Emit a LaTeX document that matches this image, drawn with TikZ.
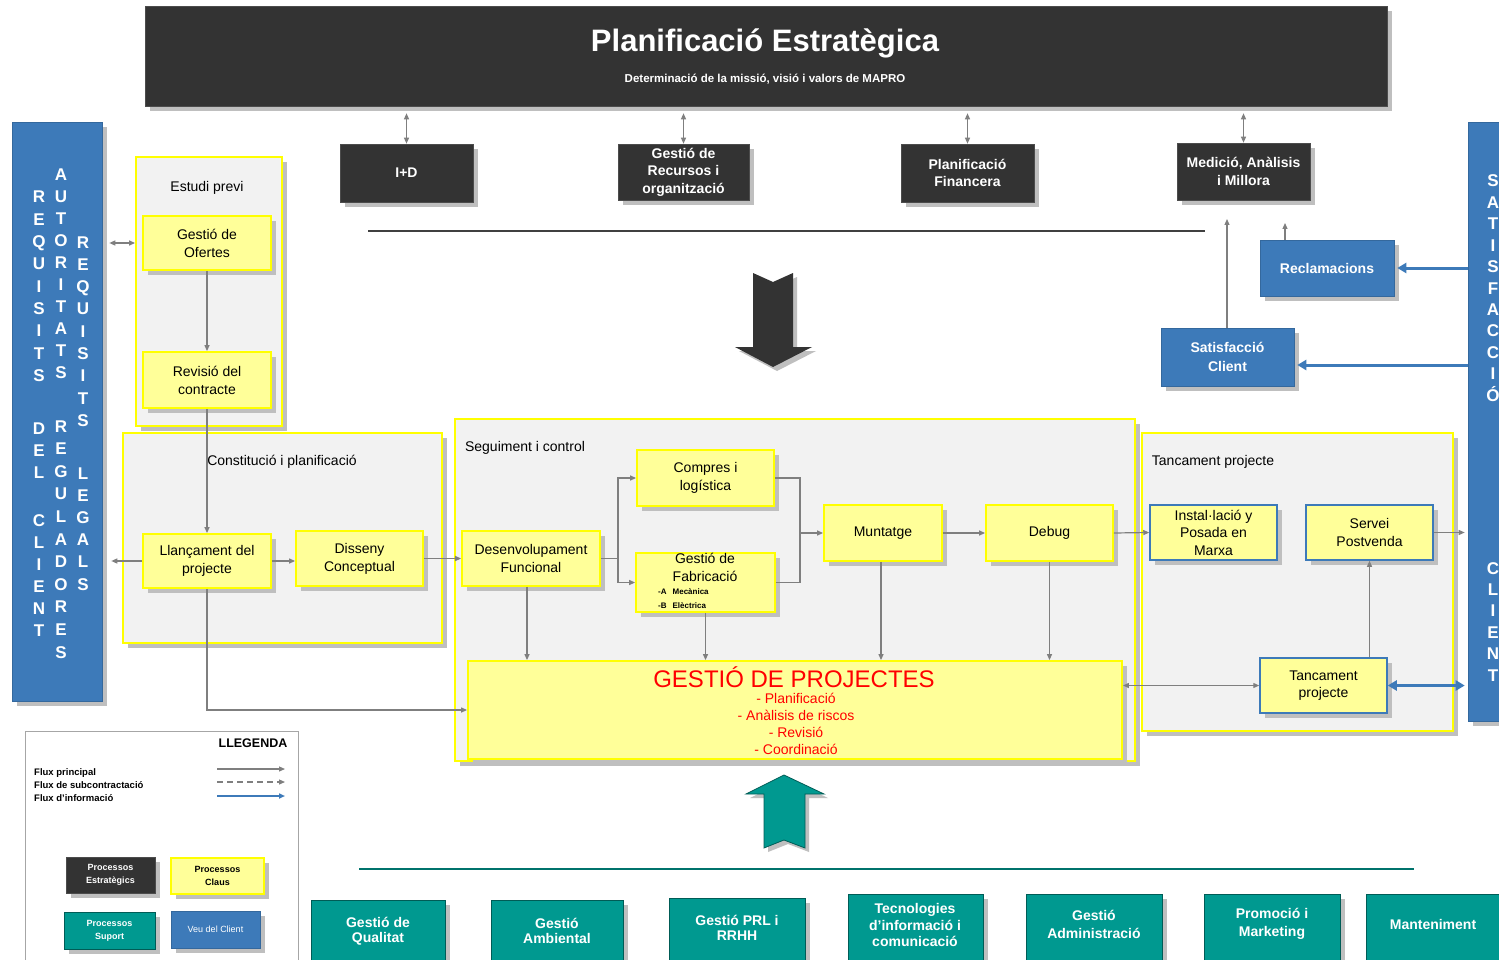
\documentclass[tikz,border=0pt]{standalone}
\usepackage{fontspec}
\setmainfont{Liberation Sans}
\usetikzlibrary{shadows,arrows.meta,calc}
\definecolor{darkbox}{HTML}{333333}
\definecolor{bluebox}{HTML}{3D7AB9}
\definecolor{tealbox}{HTML}{009990}
\definecolor{ylw}{HTML}{FFFF99}
\definecolor{ylwb}{HTML}{FFFF00}
\definecolor{contfill}{HTML}{F2F2F2}
\definecolor{shad}{HTML}{BFBFBF}
\definecolor{garr}{HTML}{7F7F7F}
\definecolor{redtxt}{HTML}{FF0000}
\newcommand\mknode[7]{\node[#1, minimum width={#5-#3}, minimum height={#6-#4}] (#2) at ({(#3+#5)/2},{(#4+#6)/2}) {#7};}
\newcommand\fs[2]{\fontsize{#1}{#2}\selectfont}
\newcommand\vword[5]{\foreach \ltr [count=\cnt] in {#5} {\node[lett] (#1\cnt) at (#2,{#3+6+(\cnt-1)*#4}) {\ltr};}}
\begin{document}
\begin{tikzpicture}[x=1pt,y=-1pt,
  shd/.style={drop shadow={shadow xshift=5pt,shadow yshift=-5pt,fill=shad,opacity=1}},
  basebox/.style={rectangle,inner sep=1pt,align=center,shd},
  ybox/.style={basebox,fill=ylw,draw=ylwb,line width=1.8pt,font=\fs{14}{18}},
  ybbox/.style={basebox,fill=ylw,draw=bluebox,line width=1.5pt,font=\fs{14}{17.5}},
  dbox/.style={basebox,fill=darkbox,draw=black!70,line width=0.6pt,text=white,font=\bfseries\fs{14}{17.5}},
  bbox/.style={basebox,fill=bluebox,draw=bluebox!85!black,line width=0.6pt,text=white,font=\bfseries\fs{14}{19}},
  tbox/.style={basebox,fill=tealbox,draw=tealbox!60!black,line width=1pt,text=white,font=\bfseries\fs{14}{16}},
  contbox/.style={rectangle,inner sep=0pt,fill=contfill,draw=ylwb,line width=1.8pt,shd},
  lbl/.style={inner sep=0pt,font=\fs{14}{16}},
  lett/.style={inner sep=0pt,anchor=base,text=white,font=\bfseries\fs{17}{20}},
  txt/.style={inner sep=0pt,align=center},
  garrow/.style={draw=garr,line width=1.2pt,-{Triangle[length=6pt,width=5pt]}},
  gdarrow/.style={draw=garr,line width=1.2pt,{Triangle[length=6pt,width=5pt]}-{Triangle[length=6pt,width=5pt]}},
  gline/.style={draw=garr,line width=1.2pt},
  barrow/.style={draw=bluebox,line width=3pt,-{Triangle[length=9pt,width=10pt]}},
  bdarrow/.style={draw=bluebox,line width=3pt,{Triangle[length=9pt,width=10pt]}-{Triangle[length=9pt,width=10pt]}},
]
\useasboundingbox (0,0) rectangle (1499,960);
\clip (0,0) rectangle (1499,960);
\fill[white] (0,0) rectangle (1499,960);

% header
\mknode{dbox}{header}{145}{6}{1387}{106}{}
\node[txt,text=white,font=\bfseries\fs{31}{34}] (htitle) at (765,43) {Planificació Estratègica};
\node[txt,text=white,font=\bfseries\fs{11.5}{14}] (hsub) at (765,79) {Determinació de la missió, visió i valors de MAPRO};

% strategic boxes
\mknode{dbox}{idbox}{340}{144}{473}{202}{I+D}
\mknode{dbox}{recursos}{618}{144}{749}{200}{Gestió de\\Recursos i\\organització}
\mknode{dbox}{financ}{901}{144}{1034}{202}{Planificació\\Financera}
\mknode{dbox}{medicio}{1177}{143}{1310}{200}{Medició, Anàlisis\\i Millora}

% blue client boxes
\mknode{bbox}{reclam}{1260}{240}{1394}{296}{Reclamacions}
\mknode{bbox}{satisf}{1161}{328}{1294}{386}{Satisfacció\\Client}

% side columns
\mknode{bbox}{leftcol}{12}{122}{102}{701}{}
\mknode{bbox}{rightcol}{1468}{122}{1540}{721}{}
\vword{ca}{39}{197}{22.3}{R,E,Q,U,I,S,I,T,S}
\vword{cb}{39}{428}{22.3}{D,E,L}
\vword{cc}{39}{520}{22.1}{C,L,I,E,N,T}
\vword{cd}{61}{175}{21.9}{A,U,T,O,R,I,T,A,T,S}
\vword{ce}{61}{426}{22.6}{R,E,G,U,L,A,D,O,R,E,S}
\vword{cf}{83}{242}{22.3}{R,E,Q,U,I,S,I,T,S}
\vword{cg}{83}{473}{22.2}{L,E,G,A,L,S}
\vword{ch}{1493}{181}{21.4}{S,A,T,I,S,F,A,C,C,I,Ó}
\vword{ci}{1493}{568}{21.4}{C,L,I,E,N,T}

% containers
\mknode{contbox}{estudi}{136}{157}{282}{426}{}
\mknode{contbox}{constit}{123}{433}{442}{643}{}
\mknode{contbox}{seguim}{455}{419}{1135}{761}{}
\mknode{contbox}{tancam}{1142}{433}{1453}{731}{}

% key process boxes
\mknode{ybox}{gofertes}{143}{216}{271}{270}{Gestió de\\Ofertes}
\mknode{ybox}{revisio}{143}{352}{271}{408}{Revisió del\\contracte}
\mknode{ybox}{llanc}{143}{534}{271}{588}{Llançament del\\projecte}
\mknode{ybox}{disseny}{296}{531}{423}{586}{Disseny\\Conceptual}
\mknode{ybox}{desen}{462}{531}{600}{586}{Desenvolupament\\Funcional}
\mknode{ybox}{compres}{637}{450}{774}{506}{Compres i\\logística}
\mknode{ybox}{fabric}{636}{553}{775}{612}{}
\mknode{ybox}{munt}{824}{505}{942}{561}{Muntatge}
\mknode{ybox}{debug}{986}{505}{1113}{561}{Debug}
\mknode{ybox}{gp}{468}{661}{1122}{759}{}
\mknode{ybbox}{instal}{1150}{505}{1277}{560}{Instal·lació y\\Posada en\\Marxa}
\mknode{ybbox}{servei}{1306}{505}{1433}{560}{Servei\\Postvenda}
\mknode{ybbox}{tanc}{1260}{658}{1387}{713}{Tancament\\projecte}

% legend
\mknode{rectangle,fill=white,draw=black!35,line width=1pt}{legend}{25}{731}{298}{980}{}
\mknode{dbox,font=\bfseries\fs{9}{13}}{lgE}{66}{857}{155}{893}{Processos\\Estratègics}
\mknode{ybox,font=\bfseries\fs{9}{13}}{lgC}{171}{858}{264}{894}{Processos\\Claus}
\mknode{tbox,font=\bfseries\fs{9}{13}}{lgS}{64}{912}{155}{949}{Processos\\Suport}
\mknode{bbox,font=\fs{9}{13}}{lgV}{171}{911}{260}{948}{Veu del Client}

% support boxes
\mknode{tbox}{bq}{311}{900}{445}{980}{}
\mknode{tbox}{ba}{491}{900}{623}{980}{}
\mknode{tbox}{bp}{669}{898}{805}{980}{}
\mknode{tbox}{bt}{848}{894}{983}{980}{}
\mknode{tbox}{bd}{1026}{894}{1162}{980}{}
\mknode{tbox}{bm}{1204}{894}{1340}{980}{}
\mknode{tbox}{bn}{1366}{894}{1540}{980}{}

% ---- connectors ----
\foreach \nn in {idbox,recursos,financ,medicio}
  \draw[gdarrow,shorten >=7pt] (\nn.north) -- (\nn.north |- header.south);
\draw[black!75,line width=1.5pt] (368,231) -- (1205,231);

\draw[gdarrow,shorten <=7pt] (leftcol.east |- gofertes) -- (estudi.west |- gofertes);
\draw[garrow] (gofertes.south) -- (revisio.north);
\draw[garrow] (revisio.south) -- (llanc.north);
\draw[garrow] (llanc.east) -- (disseny.west |- llanc.east);
\draw[garrow,shorten >=9pt] (llanc.west) -- (leftcol.east |- llanc.west);
\draw[garrow] (llanc.south) |- (gp.west);
\draw[garrow] (disseny.east) -- (desen.west |- disseny.east);
\coordinate (split) at (618,558.5);
\draw[gline] (desen.east) -- (split);
\draw[garrow] (split) |- (compres.west);
\draw[garrow] (split) |- (fabric.west);
\coordinate (join) at (800,533);
\draw[gline] (compres.east) -| (join);
\draw[gline] (fabric.east) -| (join);
\draw[garrow] (join) -- (munt.west);
\draw[garrow] (munt.east) -- (debug.west);
\draw[garrow] (debug.east) -- (instal.west);
\coordinate (dsx) at ([xshift=-4pt]desen.south);
\draw[garrow] (dsx) -- (dsx |- gp.north);
\draw[garrow] (fabric.south) -- (fabric.south |- gp.north);
\coordinate (msx) at ([xshift=-2pt]munt.south);
\draw[garrow] (msx) -- (msx |- gp.north);
\draw[garrow] (debug.south) -- (debug.south |- gp.north);
\draw[gdarrow] (gp.east |- tanc.west) -- (tanc.west);
\draw[garrow] (servei.south |- tanc.north) -- (servei.south);
\draw[garrow,shorten >=3pt] (servei.east) -- (rightcol.west |- servei.east);
\draw[bdarrow,shorten >=3pt] (tanc.east) -- (rightcol.west |- tanc.east);
\draw[barrow,shorten >=3pt] (rightcol.west |- reclam.east) -- (reclam.east);
\coordinate (sarr) at ([yshift=-8pt]satisf.east);
\draw[barrow,shorten >=3pt] (rightcol.west |- sarr) -- (sarr);
\coordinate (reclamUp) at (1285,223);
\draw[garrow] (reclam.north -| reclamUp) -- (reclamUp);
\coordinate (satisfUp) at (1227,219);
\draw[garrow] (satisf.north -| satisfUp) -- (satisfUp);

% big arrows
\fill[shad] (757,277) -- (777,286) -- (797,277) -- (797,351) -- (816,351) -- (777,371) -- (739,351) -- (757,351) -- cycle;
\fill[darkbox] (753,273) -- (773,282) -- (793,273) -- (793,347) -- (812,347) -- (773,367) -- (735,347) -- (753,347) -- cycle;
\fill[shad] (788,779) -- (828,798) -- (809,798) -- (809,852) -- (788,844) -- (768,852) -- (768,798) -- (750,798) -- cycle;
\filldraw[fill=tealbox,draw=tealbox!60!black,line width=0.8pt] (784,775) -- (824,794) -- (805,794) -- (805,848) -- (784,840) -- (764,848) -- (764,794) -- (746,794) -- cycle;
\draw[tealbox!75!black,line width=2pt] (359,869) -- (1414,869);

% legend arrows
\coordinate (lg1a) at (217,769); \coordinate (lg1b) at (285,769);
\coordinate (lg2a) at (217,782); \coordinate (lg2b) at (285,782);
\coordinate (lg3a) at (217,796); \coordinate (lg3b) at (285,796);
\draw[garrow] (lg1a) -- (lg1b);
\draw[garrow,dash pattern=on 6pt off 4pt] (lg2a) -- (lg2b);
\draw[draw=bluebox,line width=1.5pt,-{Triangle[length=6pt,width=5pt]}] (lg3a) -- (lg3b);

% ---- labels ----
\node[lbl] (estudiL) at (207,188) {Estudi previ};
\node[lbl] (constitL) at (282,462) {Constitució i planificació};
\node[lbl] (seguimL) at (525,448) {Seguiment i control};
\node[lbl] (tancamL) at (1213,462) {Tancament projecte};
\node[txt,font=\fs{14}{18}] (fabricT) at (705,567) {Gestió de\\Fabricació};
\node[txt,anchor=west,align=left,font=\bfseries\fs{8}{14}] (fabricS) at (658,599) {-A\hspace{6pt}Mecànica\\-B\hspace{6pt}Elèctrica};
\node[txt,text=redtxt,font=\fs{24}{26}] (gpT) at (794,677) {GESTIÓ DE PROJECTES};
\node[txt,text=redtxt,font=\fs{14}{17}] (gpL) at (796,724) {- Planificació\\- Anàlisis de riscos\\- Revisió\\- Coordinació};
\node[txt,font=\bfseries\fs{12.5}{14}] (legT) at (253,743) {LLEGENDA};
\node[txt,anchor=west,align=left,font=\bfseries\fs{9.5}{13}] (legF) at (34,785) {Flux principal\\Flux de subcontractació\\Flux d'informació};
\node[txt,text=white,font=\bfseries\fs{14}{15}] (bqT) at (378,931) {Gestió de\\Qualitat};
\node[txt,text=white,font=\bfseries\fs{14}{15}] (baT) at (557,931) {Gestió\\Ambiental};
\node[txt,text=white,font=\bfseries\fs{14}{15}] (bpT) at (737,928) {Gestió PRL i\\RRHH};
\node[txt,text=white,font=\bfseries\fs{14}{16.5}] (btT) at (915,925) {Tecnologies\\d'informació i\\comunicació};
\node[txt,text=white,font=\bfseries\fs{14}{18}] (bdT) at (1094,924) {Gestió\\Administració};
\node[txt,text=white,font=\bfseries\fs{14}{18}] (bmT) at (1272,924) {Promoció i\\Marketing};
\node[txt,text=white,font=\bfseries\fs{14}{18}] (bnT) at (1433,924) {Manteniment};
\end{tikzpicture}
\end{document}
